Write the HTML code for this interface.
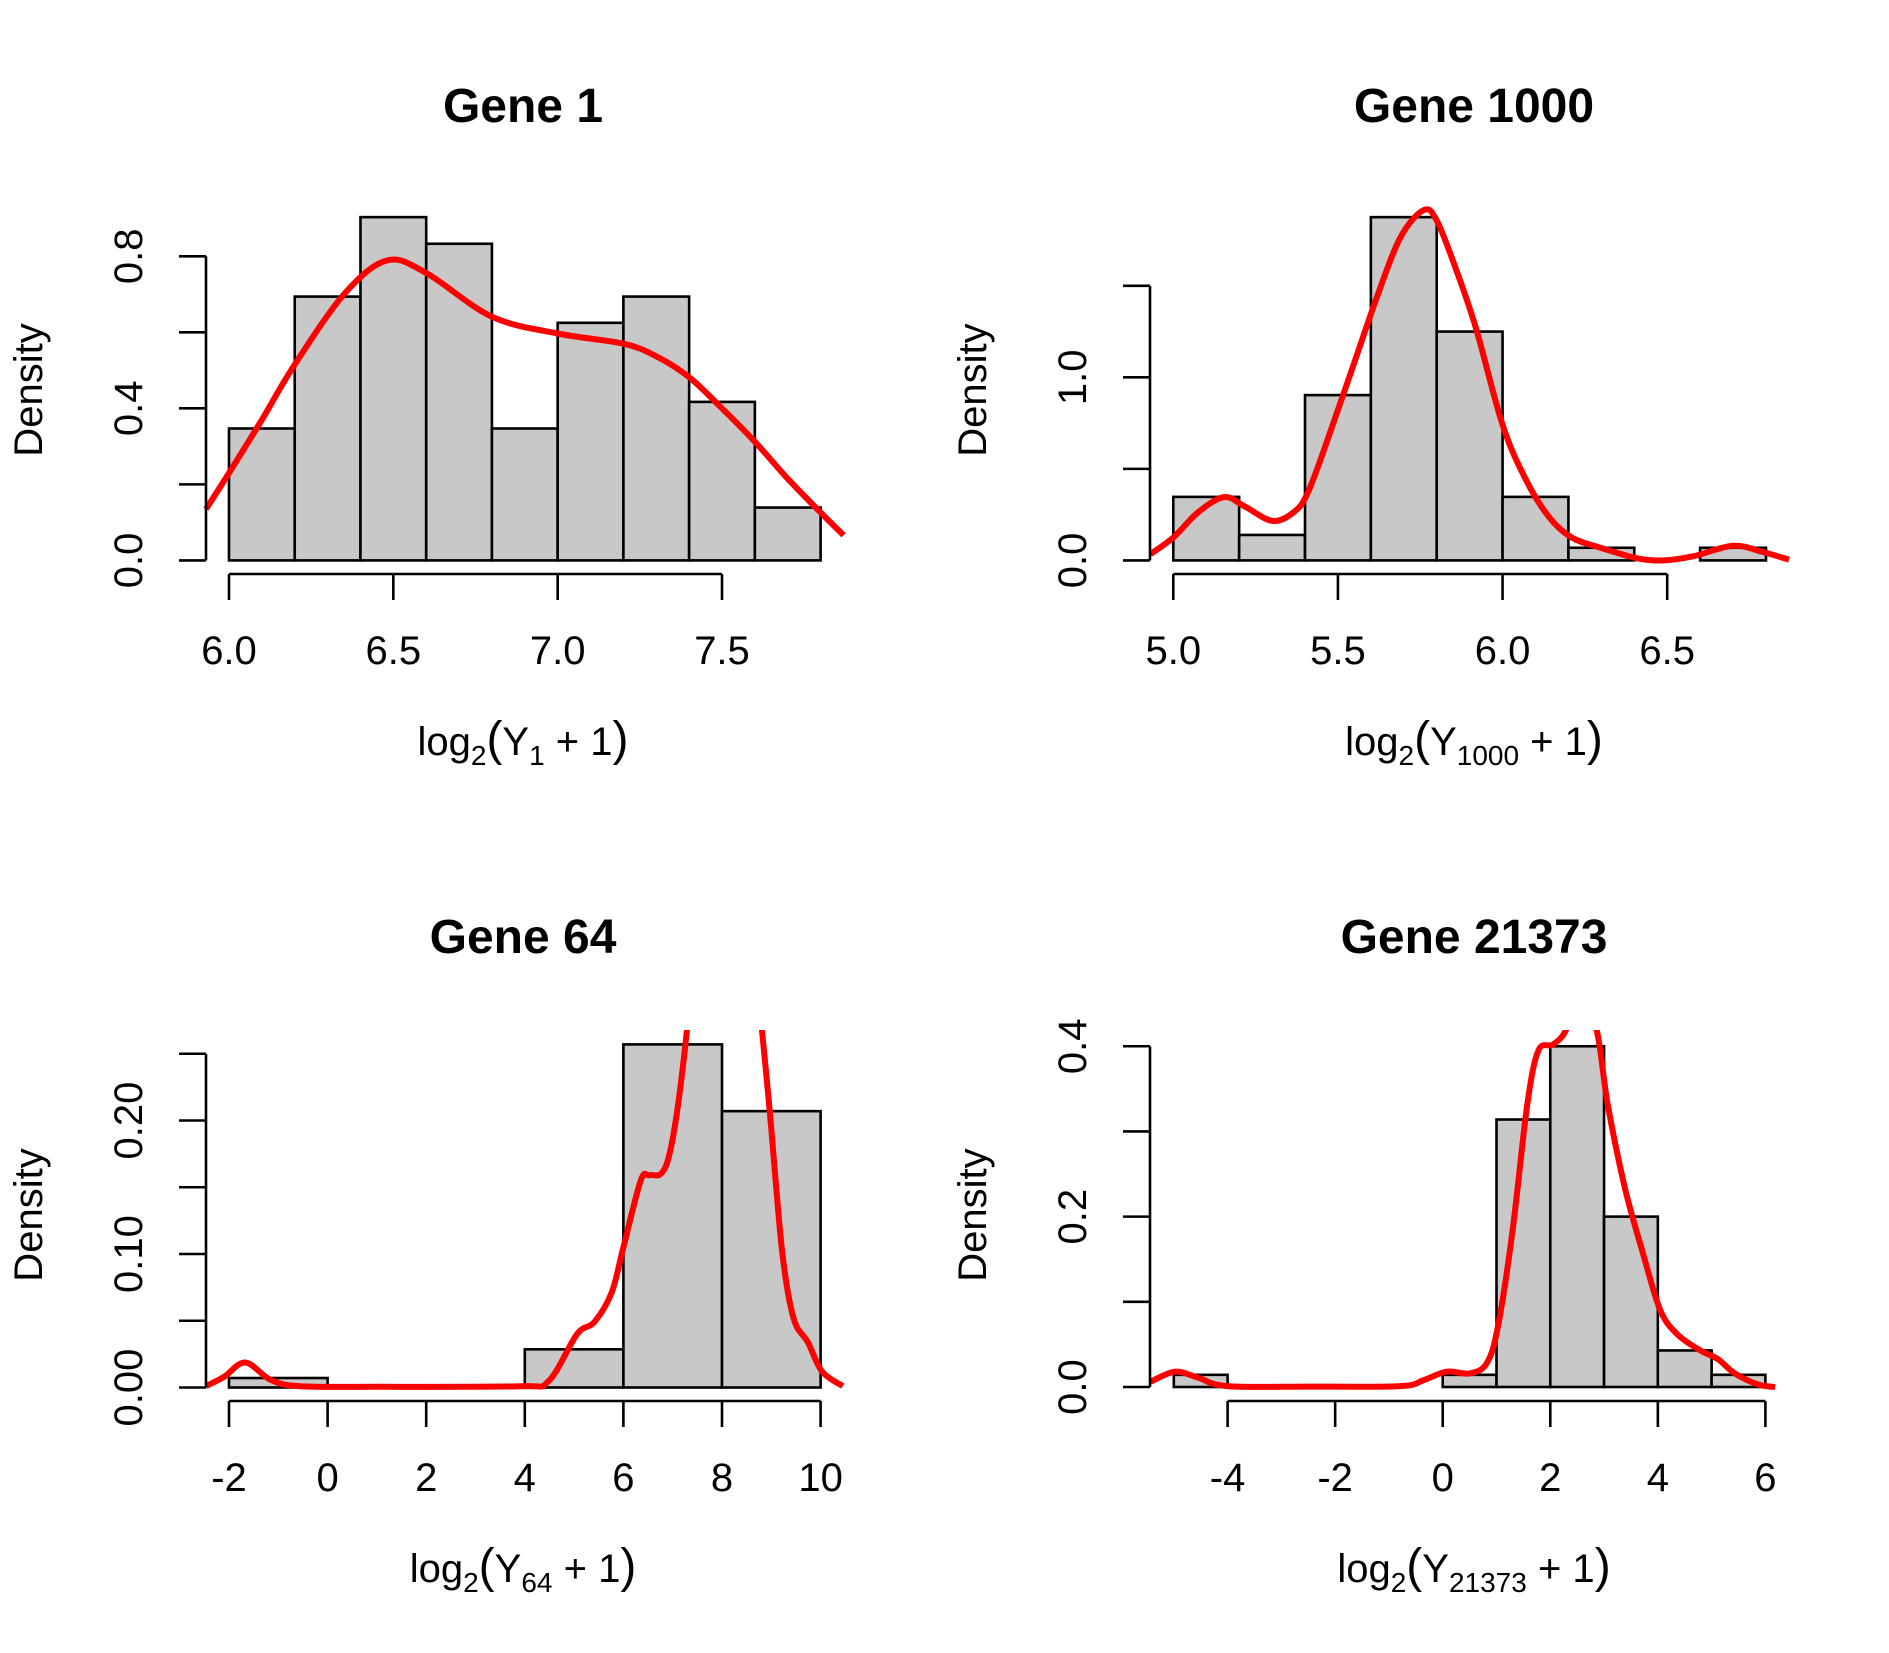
<!DOCTYPE html>
<html><head><meta charset="utf-8">
<style>
html,body{margin:0;padding:0;background:#fff;}
svg{display:block;font-family:"Liberation Sans",Arial,sans-serif;}
</style></head>
<body>
<svg id="chart" width="1889" height="1653" viewBox="0 0 1889 1653" xmlns="http://www.w3.org/2000/svg">
<defs>
<clipPath id="clipTop"><rect x="0" y="203" width="1889" height="624"/></clipPath>
<clipPath id="clipBot"><rect x="0" y="1030" width="1889" height="623"/></clipPath>
</defs>
</svg>
<script>
// ---- Gene 1 ----
const g1Breaks = [6.0,6.2,6.4,6.6,6.8,7.0,7.2,7.4,7.6,7.8];
const g1Density = [0.347,0.694,0.903,0.833,0.347,0.625,0.694,0.417,0.139];
const g1CurveX = [5.93,6.0,6.1,6.2,6.35,6.48,6.6,6.8,7.0,7.2,7.3,7.4,7.5,7.6,7.7,7.8,7.87];
const g1CurveY = [0.135,0.23,0.37,0.515,0.70,0.789,0.756,0.641,0.597,0.57,0.537,0.482,0.40,0.312,0.215,0.126,0.066];
const g1XTicks = [6.0,6.5,7.0,7.5];
const g1XLabels = ["6.0","6.5","7.0","7.5"];
const g1YTicks = [0,0.2,0.4,0.6,0.8];
const g1YLabels = ["0.0","","0.4","","0.8"];
// ---- Gene 1000 ----
const g2Breaks = [5.0,5.2,5.4,5.6,5.8,6.0,6.2,6.4,6.6,6.8];
const g2Density = [0.347,0.139,0.903,1.875,1.25,0.347,0.069,0,0.069];
const g2CurveX = [4.93,5.0,5.075,5.154,5.216,5.30,5.365,5.41,5.48,5.55,5.62,5.69,5.76,5.80,5.86,5.92,6.0,6.07,6.14,6.21,6.30,6.41,6.49,6.58,6.70,6.79,6.87];
const g2CurveY = [0.034,0.125,0.262,0.346,0.296,0.216,0.262,0.376,0.718,1.082,1.446,1.765,1.913,1.857,1.583,1.264,0.74,0.444,0.239,0.125,0.068,0.011,0,0.023,0.08,0.046,0.004];
const g2XTicks = [5.0,5.5,6.0,6.5];
const g2XLabels = ["5.0","5.5","6.0","6.5"];
const g2YTicks = [0,0.5,1.0,1.5];
const g2YLabels = ["0.0","","1.0",""];
// ---- Gene 64 ----
const g3Breaks = [-2,0,2,4,6,8,10];
const g3Density = [0.0071,0,0,0.0286,0.257,0.207];
const g3CurveX = [-2.47,-2.1,-1.67,-1.15,-0.56,1.0,3.89,4.48,5.06,5.41,5.76,6.0,6.35,6.52,6.76,6.93,7.11,7.29,7.6,8.0,8.5,8.81,8.98,9.22,9.45,9.74,10.03,10.45];
const g3CurveY = [0.001,0.008,0.0187,0.0056,0.001,0.0005,0.001,0.0047,0.040,0.049,0.071,0.105,0.155,0.159,0.160,0.174,0.212,0.268,0.38,0.44,0.38,0.268,0.202,0.102,0.052,0.034,0.012,0.001];
const g3XTicks = [-2,0,2,4,6,8,10];
const g3XLabels = ["-2","0","2","4","6","8","10"];
const g3YTicks = [0,0.05,0.10,0.15,0.20,0.25];
const g3YLabels = ["0.00","","0.10","","0.20",""];
// ---- Gene 21373 ----
const g4Breaks = [-5,-4,-3,-2,-1,0,1,2,3,4,5,6];
const g4Density = [0.0143,0,0,0,0,0.0143,0.314,0.4,0.2,0.0429,0.0143];
const g4CurveX = [-5.44,-4.98,-4.55,-4.01,-2.5,-0.79,-0.36,0.07,0.50,0.82,1.03,1.30,1.57,1.78,2.05,2.30,2.55,2.86,3.07,3.39,3.71,4.04,4.36,4.79,5.11,5.43,5.86,6.18];
const g4CurveY = [0.006,0.018,0.011,0.001,0.0005,0.001,0.008,0.018,0.016,0.028,0.072,0.184,0.331,0.395,0.402,0.42,0.47,0.42,0.331,0.233,0.160,0.091,0.062,0.043,0.033,0.016,0.003,0];
const g4XTicks = [-4,-2,0,2,4,6];
const g4XLabels = ["-4","-2","0","2","4","6"];
const g4YTicks = [0,0.1,0.2,0.3,0.4];
const g4YLabels = ["0.0","","0.2","","0.4"];

const NS = "http://www.w3.org/2000/svg";
const svg = document.getElementById('chart');
function mk(tag, attrs, parent){
  const e = document.createElementNS(NS, tag);
  for (const k in attrs) e.setAttribute(k, attrs[k]);
  (parent||svg).appendChild(e);
  return e;
}
function smoothPath(pts){
  let d = "M"+pts[0][0].toFixed(1)+","+pts[0][1].toFixed(1);
  for (let i=0;i<pts.length-1;i++){
    const p0=pts[i-1]||pts[i], p1=pts[i], p2=pts[i+1], p3=pts[i+2]||p2;
    const c1=[p1[0]+(p2[0]-p0[0])/6, p1[1]+(p2[1]-p0[1])/6];
    const c2=[p2[0]-(p3[0]-p1[0])/6, p2[1]-(p3[1]-p1[1])/6];
    d += " C"+c1[0].toFixed(1)+","+c1[1].toFixed(1)+" "+c2[0].toFixed(1)+","+c2[1].toFixed(1)+" "+p2[0].toFixed(1)+","+p2[1].toFixed(1);
  }
  return d;
}
function panel(cfg){
  const g = mk('g', {});
  
  
  const sx = v => cfg.x0px + (v - cfg.x0v) * (cfg.x1px - cfg.x0px) / (cfg.x1v - cfg.x0v);
  const sy = v => cfg.y0px + (v) * (cfg.y1px - cfg.y0px) / cfg.y1v;
  const t = mk('text', {x: cfg.cx, y: cfg.titleY, 'text-anchor':'middle', 'font-size':48, 'font-weight':'bold', fill:'#000'}, g);
  t.textContent = cfg.title;
  
  
  for (let i=0;i<cfg.density.length;i++){
    const xa = sx(cfg.breaks[i]), xb = sx(cfg.breaks[i+1]);
    const yt = sy(cfg.density[i]);
    const r = mk('rect', {x:xa, y:yt, width:xb-xa, height:cfg.y0px-yt, fill:'#c8c8c8', stroke:'#000', 'stroke-width':2.6}, g);
    
    
  }
  const pts = cfg.cx_.map((v,i)=>[sx(v), sy(cfg.cy_[i])]);
  const p = mk('path', {d: smoothPath(pts), fill:'none', stroke:'#ff0000', 'stroke-width':6, 'stroke-linejoin':'round', 'clip-path':'url(#'+cfg.clip+')'}, g);
  
  
  const xa = mk('g', {}, g);
  
  
  const xl = cfg.xTicks;
  mk('line', {x1:sx(xl[0]), x2:sx(xl[xl.length-1]), y1:cfg.axisY, y2:cfg.axisY, stroke:'#000','stroke-width':2.6}, xa);
  xl.forEach((v,i)=>{
    mk('line', {x1:sx(v), x2:sx(v), y1:cfg.axisY, y2:cfg.axisY+26, stroke:'#000','stroke-width':2.6}, xa);
    const tl = mk('text', {x:sx(v), y:cfg.axisY+90, 'text-anchor':'middle', 'font-size':40, fill:'#000'}, xa);
    tl.textContent = cfg.xLabels[i];
    
    
  });
  const ya = mk('g', {}, g);
  
  
  const yt = cfg.yTicks;
  mk('line', {x1:cfg.yAxisX, x2:cfg.yAxisX, y1:sy(yt[0]), y2:sy(yt[yt.length-1]), stroke:'#000','stroke-width':2.6}, ya);
  yt.forEach((v,i)=>{
    mk('line', {x1:cfg.yAxisX-27, x2:cfg.yAxisX, y1:sy(v), y2:sy(v), stroke:'#000','stroke-width':2.6}, ya);
    if (cfg.yLabels[i]){
      const lx = cfg.yAxisX-77, ly = sy(v);
      const tl = mk('text', {x:lx, y:ly, 'text-anchor':'middle', 'dominant-baseline':'central', 'font-size':40, fill:'#000', transform:'rotate(-90 '+lx+' '+ly+')'}, ya);
      tl.textContent = cfg.yLabels[i];
      
      
    }
  });
  const dx = cfg.yAxisX-177, dy = cfg.midY;
  const yl = mk('text', {x:dx, y:dy, 'text-anchor':'middle', 'dominant-baseline':'central', 'font-size':40, fill:'#000', transform:'rotate(-90 '+dx+' '+dy+')'}, g);
  yl.textContent = 'Density';
  
  
  const xt = mk('text', {x:cfg.cx, y:cfg.xlabY, 'text-anchor':'middle', 'font-size':40, fill:'#000'}, g);
  
  
  const parts = [['log',0,40],['2',10,28],['(',-10,48],['Y',0,40],[cfg.sub,10,28],[' + 1',-10,40],[')',0,48]];
  parts.forEach(pp=>{
    const s = mk('tspan', {dy:pp[1], 'font-size':pp[2]}, xt);
    s.textContent = pp[0];
  });
}
panel({name:'panel-gene-1', title:'Gene 1', sub:'1', cx:523, titleY:122, breaks:g1Breaks, density:g1Density, cx_:g1CurveX, cy_:g1CurveY,
  x0v:6.0, x1v:7.5, x0px:229, x1px:722, y0px:560.4, y1px:256.3, y1v:0.8, axisY:574, yAxisX:206, midY:390, xlabY:755,
  xTicks:g1XTicks, xLabels:g1XLabels, yTicks:g1YTicks, yLabels:g1YLabels, clip:'clipTop'});
panel({name:'panel-gene-1000', title:'Gene 1000', sub:'1000', cx:1474, titleY:122, breaks:g2Breaks, density:g2Density, cx_:g2CurveX, cy_:g2CurveY,
  x0v:5.0, x1v:6.5, x0px:1173.3, x1px:1667.2, y0px:560.4, y1px:285.8, y1v:1.5, axisY:574, yAxisX:1150, midY:390, xlabY:755,
  xTicks:g2XTicks, xLabels:g2XLabels, yTicks:g2YTicks, yLabels:g2YLabels, clip:'clipTop'});
panel({name:'panel-gene-64', title:'Gene 64', sub:'64', cx:523, titleY:953, breaks:g3Breaks, density:g3Density, cx_:g3CurveX, cy_:g3CurveY,
  x0v:-2, x1v:10, x0px:229, x1px:820.6, y0px:1387.5, y1px:1053.75, y1v:0.25, axisY:1401, yAxisX:206, midY:1215, xlabY:1582,
  xTicks:g3XTicks, xLabels:g3XLabels, yTicks:g3YTicks, yLabels:g3YLabels, clip:'clipBot'});
panel({name:'panel-gene-21373', title:'Gene 21373', sub:'21373', cx:1474, titleY:953, breaks:g4Breaks, density:g4Density, cx_:g4CurveX, cy_:g4CurveY,
  x0v:-4, x1v:6, x0px:1227.6, x1px:1765.4, y0px:1387, y1px:1046.25, y1v:0.4, axisY:1401, yAxisX:1150, midY:1215, xlabY:1582,
  xTicks:g4XTicks, xLabels:g4XLabels, yTicks:g4YTicks, yLabels:g4YLabels, clip:'clipBot'});
</script>
</body></html>
